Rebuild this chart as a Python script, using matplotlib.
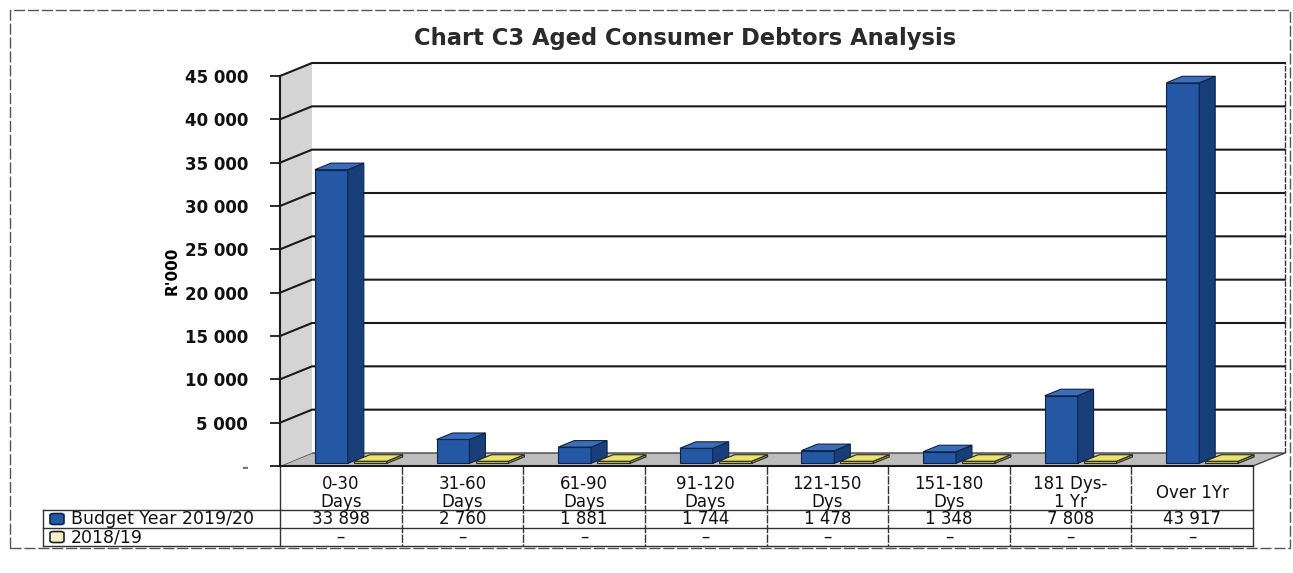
import matplotlib
matplotlib.use("Agg")
import matplotlib.pyplot as plt
from matplotlib.patches import Polygon, Rectangle, FancyBboxPatch
from matplotlib.lines import Line2D

# ---------------- data ----------------
categories = ["0-30\nDays", "31-60\nDays", "61-90\nDays", "91-120\nDays",
              "121-150\nDys", "151-180\nDys", "181 Dys-\n1 Yr", "Over 1Yr"]
budget_2019_20 = [33898, 2760, 1881, 1744, 1478, 1348, 7808, 43917]
prior_2018_19 = [0, 0, 0, 0, 0, 0, 0, 0]
series_names = ["Budget Year 2019/20", "2018/19"]
y_ticks = [0, 5000, 10000, 15000, 20000, 25000, 30000, 35000, 40000, 45000]
title = "Chart C3 Aged Consumer Debtors Analysis"
y_label = "R'000"

# ---------------- layout / style ----------------
W, H = 1293, 573
fig = plt.figure(figsize=(W / 100, H / 100), dpi=100)
fig.patch.set_facecolor("white")

x_left, x_right, y_bot, y_top = 280, 1253, 466, 76
ax = fig.add_axes([x_left / W, (H - y_bot) / H, (x_right - x_left) / W, (y_bot - y_top) / H])
n = len(categories)
ymax = y_ticks[-1]
ax.set_xlim(0, n)
ax.set_ylim(0, ymax)
for s in ax.spines.values():
    s.set_visible(False)
ax.set_xticks([])
ax.set_facecolor("none")

px_per_cat = (x_right - x_left) / n
px_per_unit = (y_bot - y_top) / ymax
DX = 32 / px_per_cat        # depth offset in data x
DY = 13 / px_per_unit       # depth offset in data y

grid_c = "#1a1a1a"
# floor
ax.add_patch(Polygon([(0, 0), (n, 0), (n + DX, DY), (DX, DY)], closed=True,
                     facecolor="#bdbdbd", edgecolor="#444444", lw=1.0, zorder=1, clip_on=False))
# left wall
ax.add_patch(Polygon([(0, 0), (0, ymax), (DX, ymax + DY), (DX, DY)], closed=True,
                     facecolor="#d4d4d4", edgecolor="none", zorder=1, clip_on=False))
# gridlines on left wall + back wall
for v in y_ticks[1:]:
    ax.add_line(Line2D([0, DX, n + DX], [v, v + DY, v + DY], color=grid_c, lw=1.5,
                       zorder=2, clip_on=False))
# back wall right edge
ax.add_line(Line2D([n + DX, n + DX], [DY, ymax + DY], color="#333333", lw=1.0,
                   ls=(0, (4, 1)), zorder=2, clip_on=False))
# front left edge (axis)
ax.add_line(Line2D([0, 0], [0, ymax], color=grid_c, lw=1.5, zorder=3, clip_on=False))
ax.add_line(Line2D([0, n], [0, 0], color=grid_c, lw=1.5, zorder=3, clip_on=False))

ax.set_yticks(y_ticks)
ax.set_yticklabels(["-" if v == 0 else f"{v:,}".replace(",", " ") for v in y_ticks])
ax.tick_params(axis="y", length=7, width=1.3, color=grid_c, pad=16, labelsize=12)
for lab in ax.get_yticklabels():
    lab.set_fontweight("bold")
    lab.set_color("#111111")
ax.get_yticklabels()[0].set_color("#777777")
ax.set_ylabel(y_label, fontsize=11, fontweight="bold", labelpad=4)


def bar3d(x0, x1, h, front, side, top, edge, z):
    f0, d = 0.2, 0.5
    ox, oy = f0 * DX, f0 * DY
    ddx, ddy = d * DX, d * DY
    a, b = x0 + ox, x1 + ox
    ax.add_patch(Polygon([(a, oy), (b, oy), (b, h + oy), (a, h + oy)], closed=True,
                         facecolor=front, edgecolor=edge, lw=0.8, zorder=z, clip_on=False))
    ax.add_patch(Polygon([(b, oy), (b + ddx, oy + ddy), (b + ddx, h + oy + ddy), (b, h + oy)],
                         closed=True, facecolor=side, edgecolor=edge, lw=0.8, zorder=z, clip_on=False))
    ax.add_patch(Polygon([(a, h + oy), (b, h + oy), (b + ddx, h + oy + ddy), (a + ddx, h + oy + ddy)],
                         closed=True, facecolor=top, edgecolor=edge, lw=0.8, zorder=z, clip_on=False))


bw, gap, ctr = 0.27, 0.05, 0.53
min_h = 250  # visual thickness for zero-valued slabs
for i in range(n):
    bar3d(i + ctr - gap / 2 - bw, i + ctr - gap / 2, budget_2019_20[i],
          "#2457a4", "#183f7a", "#3b6db8", "#0d2448", 5 + i)
    bar3d(i + ctr + gap / 2, i + ctr + gap / 2 + bw, max(prior_2018_19[i], min_h),
          "#c9c54f", "#a9a43c", "#e8e56a", "#2a2a2a", 5 + i)

# ---------------- title ----------------
fig.text(685 / W, 1 - 38 / H, title, ha="center", va="center", fontsize=16.3, fontweight="bold",
         color="#2a2a2a")

# ---------------- data table ----------------
tr = ax.get_xaxis_transform()   # x data, y axes fraction


def yf(ypix):
    return (y_bot - ypix) / (y_bot - y_top)


tab_c = "#333333"
row_top, row1, row2, row3 = y_bot, 510, 528, 546
label_left = (43 - x_left) / (x_right - x_left)
for i in range(n + 1):
    ax.add_line(Line2D([i, i], [yf(row_top), yf(row3)], transform=tr, color=tab_c, lw=1.0,
                       ls=(0, (6, 1)) if 0 < i < n else "-", clip_on=False))
for yy in (row1, row2, row3):
    ax.add_line(Line2D([label_left, 1], [yf(yy), yf(yy)], transform=ax.transAxes, color=tab_c,
                       lw=1.0, clip_on=False))
ax.add_line(Line2D([label_left, label_left], [yf(row1), yf(row3)], transform=ax.transAxes,
                   color=tab_c, lw=1.0, clip_on=False))

for i, cat in enumerate(categories):
    ax.text(i + 0.5, yf(493), cat, transform=tr, ha="center", va="center", fontsize=12,
            linespacing=1.0, color="#111111")
    ax.text(i + 0.5, yf((row1 + row2) / 2), f"{budget_2019_20[i]:,}".replace(",", " "),
            transform=tr, ha="center", va="center", fontsize=12, color="#111111")
    ax.text(i + 0.5, yf((row2 + row3) / 2), "–" if prior_2018_19[i] == 0 else
            f"{prior_2018_19[i]:,}".replace(",", " "),
            transform=tr, ha="center", va="center", fontsize=12, color="#111111")

# legend keys in table
key_x = (50 - x_left) / (x_right - x_left)
key_w = 14 / (x_right - x_left)
key_h = 11 / (y_bot - y_top)
text_x = (71 - x_left) / (x_right - x_left)
for yy, name, fc, ec in ((519, series_names[0], "#2457a4", "#0d2448"),
                         (537, series_names[1], "#f4f1c8", "#222222")):
    ax.add_patch(FancyBboxPatch((key_x, yf(yy) - key_h / 2), key_w, key_h,
                                boxstyle="round,pad=0,rounding_size=0.004",
                                transform=ax.transAxes, facecolor=fc, edgecolor=ec, lw=1.2,
                                clip_on=False))
    ax.text(text_x, yf(yy), name, transform=ax.transAxes, ha="left", va="center",
            fontsize=12.5, color="#111111")

# outer frame
fig.add_artist(Rectangle((10 / W, 1 - 548 / H), 1280 / W, 538 / H, transform=fig.transFigure,
                         fill=False, edgecolor="#555555", lw=1.0, ls=(0, (8, 2))))

fig.savefig("out.png", dpi=100)
